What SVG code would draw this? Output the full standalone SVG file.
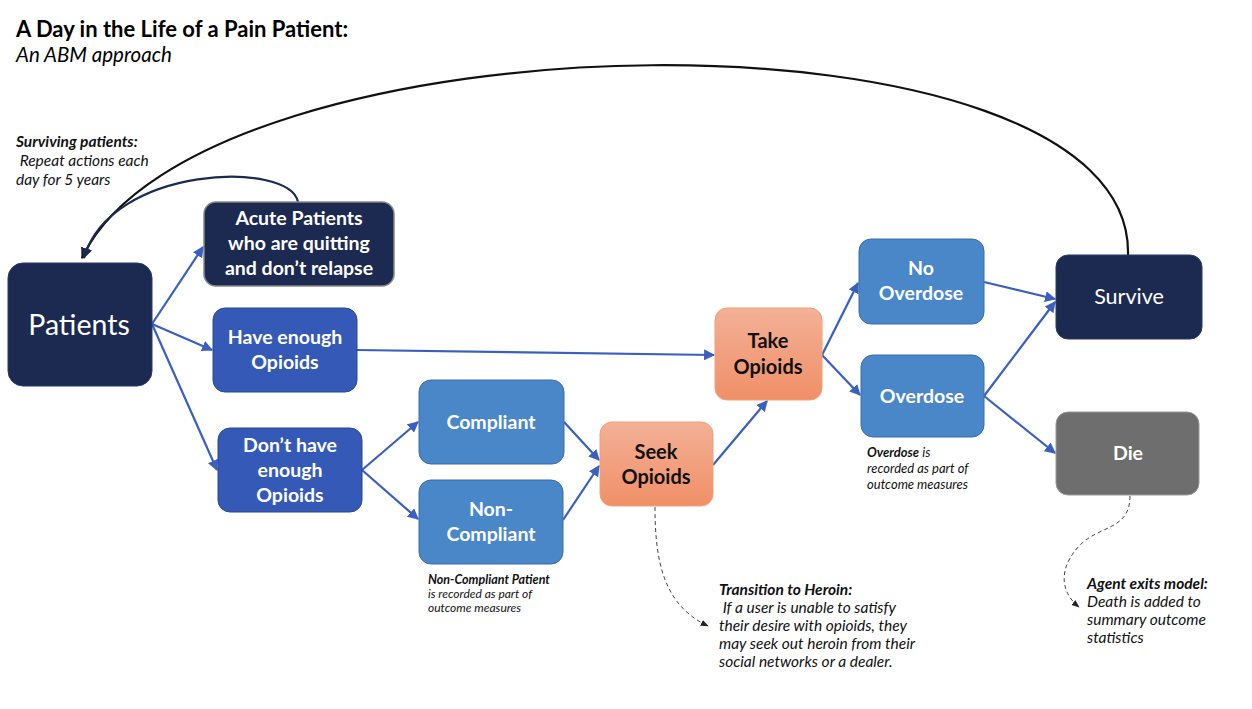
<svg xmlns="http://www.w3.org/2000/svg" width="1252" height="709" viewBox="0 0 1252 709">
<defs>
<linearGradient id="og" x1="0" y1="0" x2="0" y2="1"><stop offset="0" stop-color="#f3b196"/><stop offset="1" stop-color="#f08f67"/></linearGradient>
<marker id="ab" viewBox="0 0 10 10" refX="9" refY="5" markerWidth="5" markerHeight="5" orient="auto" markerUnits="strokeWidth"><path d="M0,0 L10,5 L0,10 z" fill="#3a5fc0"/></marker>
<marker id="ak" viewBox="0 0 10 10" refX="9" refY="5" markerWidth="5" markerHeight="5" orient="auto" markerUnits="strokeWidth"><path d="M0,0 L10,5 L0,10 z" fill="#111"/></marker>
<marker id="an" viewBox="0 0 10 10" refX="9" refY="5" markerWidth="5" markerHeight="5" orient="auto" markerUnits="strokeWidth"><path d="M0,0 L10,5 L0,10 z" fill="#1c2951"/></marker>
<marker id="ad" viewBox="0 0 10 10" refX="9" refY="5" markerWidth="8" markerHeight="8" orient="auto" markerUnits="strokeWidth"><path d="M0,1 L10,5 L0,9 z" fill="#222"/></marker>
</defs>
<style>
text{font-family:Lato,"Open Sans","Liberation Sans",sans-serif}
.nt{fill:#fff;font-weight:bold;font-size:19.5px;text-anchor:middle}
.ot{fill:#111;font-weight:bold;font-size:20px;text-anchor:middle}
.c{stroke:#3a5fc0;stroke-width:2.2;fill:none;marker-end:url(#ab)}
.navy{fill:#1c2951}
.note{fill:#111;font-style:italic;font-size:15.5px}
.dash{stroke:#444;stroke-width:1;fill:none;stroke-dasharray:4,3;marker-end:url(#ad)}
</style>
<rect width="1252" height="709" fill="#fff"/>
<text x="16" y="37" font-size="22" font-weight="bold" fill="#000">A Day in the Life of a Pain Patient:</text>
<text x="16" y="62" font-size="20.5" font-style="italic" fill="#000">An ABM approach</text>
<text class="note" x="16" y="147" font-weight="bold">Surviving patients:</text>
<text class="note" x="16" y="166" xml:space="preserve"> Repeat actions each</text>
<text class="note" x="16" y="185">day for 5 years</text>

<g id="connectors">
<path d="M1128,255 C1135,-5 200,8 82,258" stroke="#111" stroke-width="2.2" fill="none" marker-end="url(#ak)"/>
<path d="M298,202 C290,160 110,165 84,258" stroke="#1c2951" stroke-width="2.2" fill="none" marker-end="url(#an)"/>
<path class="c" d="M152,324 L203,247"/>
<path class="c" d="M152,324 L212,350"/>
<path class="c" d="M152,324 L217,470"/>
<path class="c" d="M357,350 L714,355"/>
<path class="c" d="M362,470 L418,422"/>
<path class="c" d="M362,470 L418,519"/>
<path class="c" d="M564,422 L599,460"/>
<path class="c" d="M563,520 L599,466"/>
<path class="c" d="M713,465 L767,401"/>
<path class="c" d="M822,355 L858,283"/>
<path class="c" d="M822,355 L860,395"/>
<path class="c" d="M984,282 L1055,299"/>
<path class="c" d="M984,396 L1055,302"/>
<path class="c" d="M984,396 L1055,453"/>
<path class="dash" d="M655,507 C655,560 663,605 708,626"/>
<path class="dash" d="M1130,496 C1130,530 1100,525 1080,545 C1058,568 1060,592 1079,607"/>
</g>

<g id="patients"><rect x="8" y="263" width="144" height="123" rx="15" class="navy" stroke="#2a3a6a"/><text x="79" y="335" fill="#fff" font-size="28.5" text-anchor="middle">Patients</text></g>
<g id="acute"><rect x="204" y="202" width="190" height="84" rx="12" class="navy" stroke="#888" stroke-width="1.5"/><text class="nt" x="299" y="225">Acute Patients</text><text class="nt" x="299" y="250">who are quitting</text><text class="nt" x="299" y="275">and don’t relapse</text></g>
<g id="have"><rect x="213" y="308" width="144" height="84" rx="12" fill="#3559b6" stroke="#2b4790"/><text class="nt" x="285" y="344">Have enough</text><text class="nt" x="285" y="369">Opioids</text></g>
<g id="donthave"><rect x="218" y="428" width="144" height="84" rx="12" fill="#3559b6" stroke="#2b4790"/><text class="nt" x="290" y="452">Don’t have</text><text class="nt" x="290" y="477">enough</text><text class="nt" x="290" y="502">Opioids</text></g>
<g id="compliant"><rect x="419" y="380" width="145" height="84" rx="12" fill="#4a87c9" stroke="#3a6ca8"/><text class="nt" x="491" y="429">Compliant</text></g>
<g id="noncompliant"><rect x="419" y="480" width="144" height="84" rx="12" fill="#4a87c9" stroke="#3a6ca8"/><text class="nt" x="491" y="516">Non-</text><text class="nt" x="491" y="541">Compliant</text></g>
<g id="seek"><rect x="600" y="422" width="113" height="84" rx="12" fill="url(#og)" stroke="#f0a07a"/><text class="ot" x="656" y="459">Seek</text><text class="ot" x="656" y="484">Opioids</text></g>
<g id="take"><rect x="715" y="308" width="107" height="92" rx="12" fill="url(#og)" stroke="#f0a07a"/><text class="ot" x="768" y="348">Take</text><text class="ot" x="768" y="374">Opioids</text></g>
<g id="nooverdose"><rect x="859" y="239" width="125" height="85" rx="12" fill="#4a87c9" stroke="#3a6ca8"/><text class="nt" x="921" y="275">No</text><text class="nt" x="921" y="300">Overdose</text></g>
<g id="overdose"><rect x="861" y="355" width="123" height="82" rx="12" fill="#4a87c9" stroke="#3a6ca8"/><text class="nt" x="922" y="403">Overdose</text></g>
<g id="survive"><rect x="1056" y="255" width="146" height="84" rx="12" class="navy" stroke="#2a3a6a"/><text x="1129" y="304" fill="#fff" font-size="21.5" text-anchor="middle">Survive</text></g>
<g id="die"><rect x="1056" y="412" width="143" height="83" rx="12" fill="#6e6e6e" stroke="#999"/><text class="nt" x="1128" y="460">Die</text></g>

<g id="notes" class="note">
<text x="428" y="584" font-size="12.5" font-weight="bold">Non-Compliant Patient</text>
<text x="428" y="598" font-size="12">is recorded as part of</text>
<text x="428" y="612" font-size="12">outcome measures</text>
<text x="867" y="457" font-size="13"><tspan font-weight="bold">Overdose</tspan> is</text>
<text x="867" y="473" font-size="13">recorded as part of</text>
<text x="867" y="489" font-size="13">outcome measures</text>
<text x="719" y="595" font-weight="bold">Transition to Heroin:</text>
<text x="719" y="613" xml:space="preserve"> If a user is unable to satisfy</text>
<text x="719" y="631">their desire with opioids, they</text>
<text x="719" y="649">may seek out heroin from their</text>
<text x="719" y="667">social networks or a dealer.</text>
<text x="1087" y="589" font-weight="bold">Agent exits model:</text>
<text x="1087" y="607">Death is added to</text>
<text x="1087" y="625">summary outcome</text>
<text x="1087" y="643">statistics</text>
</g>
</svg>
